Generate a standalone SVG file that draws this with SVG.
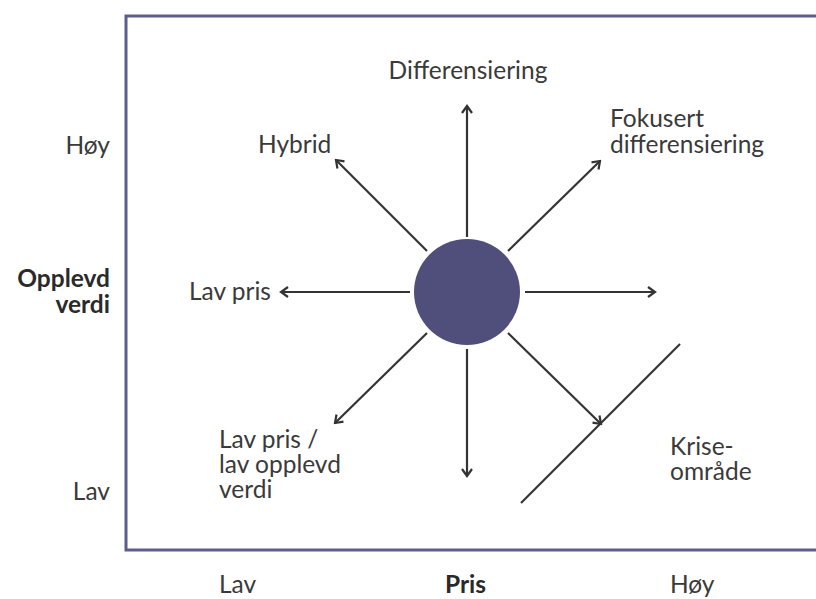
<svg xmlns="http://www.w3.org/2000/svg" width="816" height="599" viewBox="0 0 816 599">
<style>
text{font-family:Lato,"Open Sans","Liberation Sans",sans-serif;font-size:24.5px;fill:#3a3a3a}
.b{font-weight:bold;fill:#2a2a2a}
.r{text-anchor:end}
.m{text-anchor:middle}
.ln{stroke:#333;stroke-width:2.2;fill:none}
.ar{stroke:#333;stroke-width:2.2;fill:none;marker-end:url(#ah)}
</style>
<defs>
<marker id="ah" viewBox="0 0 12 12" markerWidth="12" markerHeight="12" refX="10" refY="6" orient="auto" markerUnits="userSpaceOnUse">
<path d="M3,1 L10,6 L3,11" fill="none" stroke="#333" stroke-width="2.2"/>
</marker>
</defs>
<rect width="816" height="599" fill="#fff"/>
<g id="frame"><path d="M830,16 H126 V550 H830" fill="none" stroke="#5f5d8e" stroke-width="3"/></g>
<g id="axis-labels">
<text x="110" y="154" class="r">Høy</text>
<text x="110" y="287" class="r b">Opplevd</text>
<text x="110" y="313" class="r b">verdi</text>
<text x="110" y="500" class="r">Lav</text>
<text x="219" y="593">Lav</text>
<text x="445" y="593" class="b">Pris</text>
<text x="670" y="593">Høy</text>
</g>
<g id="connectors">
<line class="ar" x1="467" y1="237" x2="467" y2="106"/>
<line class="ar" x1="467" y1="349" x2="467" y2="476"/>
<line class="ar" x1="525" y1="292" x2="655" y2="292"/>
<line class="ar" x1="410" y1="292" x2="281" y2="292"/>
<line class="ar" x1="427" y1="251" x2="336" y2="160"/>
<line class="ar" x1="508" y1="251" x2="600" y2="161"/>
<line class="ar" x1="427" y1="333" x2="335" y2="423"/>
<line class="ar" x1="508" y1="333" x2="601" y2="424"/>
<line class="ln" x1="521" y1="503" x2="680" y2="344"/>
</g>
<g id="center"><circle cx="467" cy="292" r="53" fill="#504e7a"/></g>
<g id="differensiering"><text x="468" y="79" class="m">Differensiering</text></g>
<g id="hybrid"><text x="258" y="153">Hybrid</text></g>
<g id="fokusert"><text x="610" y="127">Fokusert</text><text x="610" y="153">differensiering</text></g>
<g id="lavpris"><text x="189" y="300">Lav pris</text></g>
<g id="lavopplevd"><text x="219" y="448">Lav pris /</text><text x="219" y="473">lav opplevd</text><text x="219" y="498">verdi</text></g>
<g id="krise"><text x="670" y="455">Krise-</text><text x="670" y="480">område</text></g>
</svg>
